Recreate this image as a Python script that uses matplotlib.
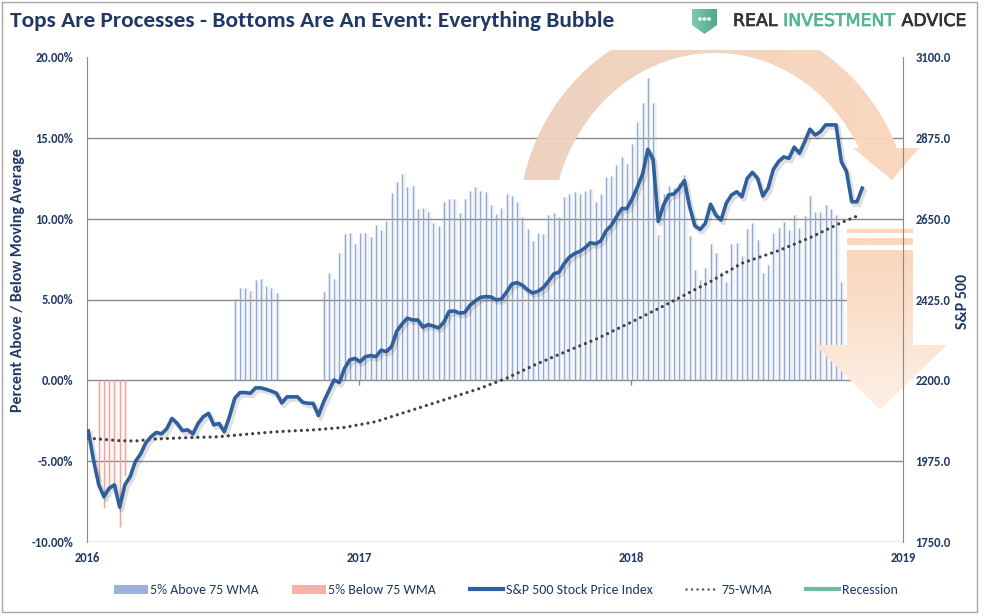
import numpy as np
import matplotlib
matplotlib.use("Agg")
import matplotlib.pyplot as plt
import matplotlib.patheffects as pe
from matplotlib import font_manager
from matplotlib.colors import LinearSegmentedColormap
from matplotlib.lines import Line2D
from matplotlib.patches import Patch, Polygon, Rectangle, Circle

# --------------------------
# Data (weekly, week 0 = first week of Jan 2016)
# --------------------------
sp500 = [2059, 1978, 1909, 1876, 1900, 1909, 1847, 1909, 1932, 1974,
         1995, 2026, 2043, 2055, 2051, 2065, 2094, 2080, 2060, 2062,
         2051, 2080, 2099, 2108, 2076, 2080, 2057, 2099, 2150, 2166,
         2166, 2164, 2179, 2179, 2175, 2170, 2164, 2137, 2154, 2154,
         2154, 2139, 2136, 2136, 2102, 2140, 2171, 2201, 2194, 2233,
         2257, 2261, 2252, 2266, 2269, 2266, 2284, 2280, 2294, 2337,
         2357, 2373, 2368, 2368, 2348, 2355, 2351, 2346, 2362, 2392,
         2393, 2387, 2389, 2409, 2421, 2431, 2433, 2432, 2424, 2426,
         2446, 2468, 2472, 2465, 2452, 2443, 2448, 2458, 2476, 2496,
         2501, 2525, 2543, 2553, 2559, 2569, 2583, 2580, 2588, 2616,
         2631, 2655, 2678, 2678, 2705, 2738, 2774, 2843, 2815, 2642,
         2688, 2716, 2719, 2735, 2756, 2683, 2630, 2620, 2637, 2690,
         2660, 2646, 2693, 2716, 2725, 2711, 2762, 2779, 2762, 2713,
         2735, 2787, 2809, 2822, 2818, 2849, 2832, 2864, 2899, 2883,
         2892, 2911, 2911, 2911, 2809, 2781, 2697, 2697, 2735]

above_weeks = list(range(28, 37)) + list(range(45, 145))
above_pct = [5.04, 5.72, 5.72, 5.53, 6.22, 6.28, 5.84, 5.72, 5.41,
             5.45, 6.63, 6.28, 7.87, 9.06, 9.10, 8.42, 9.10, 9.10, 8.86,
             9.62, 9.31, 9.86, 11.58, 12.29, 12.77, 11.95, 12.03, 10.59, 10.65,
             10.40, 9.72, 9.55, 11.06, 11.21, 11.21, 10.34, 11.21, 11.74, 11.95,
             11.74, 11.68, 10.85, 10.28, 10.65, 11.52, 11.41, 11.02, 10.13, 9.35,
             8.63, 9.14, 9.04, 10.22, 10.34, 10.09, 11.33, 11.53, 11.68, 11.53,
             11.74, 11.82, 11.06,
             11.53, 12.60, 12.65, 13.33, 13.80, 13.39, 14.63, 15.99, 17.18, 18.69,
             17.18, 9.00, 11.53, 11.99, 11.89, 12.23, 12.71, 8.94, 6.83, 6.22,
             6.94, 8.44, 7.87, 6.69, 6.11, 8.44, 8.52, 7.66, 9.37, 9.76,
             8.69, 6.63, 7.14, 9.10, 9.41, 9.82, 9.31, 10.24, 9.41, 10.17,
             11.41, 10.44, 10.44, 10.85, 10.59, 10.24, 6.11]

below_weeks = list(range(2, 8))
below_pct = [-6.3, -7.9, -6.8, -6.6, -9.1, -5.9]

wma_weeks = [0, 6, 9, 12, 18, 25, 31, 36, 43, 49, 55, 61, 75,
             80, 86, 91, 97, 104, 110, 119, 125, 132, 138, 144, 147]
wma_vals = [2039, 2032, 2031, 2036, 2040, 2043, 2051, 2057, 2062, 2069, 2085, 2113, 2178,
            2206, 2247, 2278, 2314, 2363, 2407, 2475, 2526, 2561, 2597, 2639, 2657]

year_labels = ["2016", "2017", "2018", "2019"]
year_pos = [-0.25, 51.8, 103.8, 155.8]
pct_ticks = [-10, -5, 0, 5, 10, 15, 20]
spx_ticks = [1750, 1975, 2200, 2425, 2650, 2875, 3100]

weeks = np.arange(len(sp500))

# --------------------------
# Style
# --------------------------
names = {f.name for f in font_manager.fontManager.ttflist}
FONT = next(f for f in ["Carlito", "Lato", "Open Sans", "DejaVu Sans"] if f in names)
plt.rcParams["font.family"] = FONT

NAVY = "#1f3864"
LINE = "#2f5f9c"
BAR = "#8eaad6"
RED = "#f2a39a"
GRID = "#8a8a8a"
DOT = "#404040"

W, H = 985, 616
fig = plt.figure(figsize=(W / 100, H / 100), dpi=100)


def px(x0, y0, x1, y1):
    # pixel box (top-left origin) -> figure fraction rect
    return [x0 / W, 1 - y1 / H, (x1 - x0) / W, (y1 - y0) / H]


ax = fig.add_axes(px(87, 57, 903, 542))
ax2 = ax.twinx()
deco = fig.add_axes([0, 0, 1, 1])
ax.set_zorder(1)
deco.set_zorder(2)
ax2.set_zorder(3)
deco.patch.set_visible(False)
ax2.patch.set_visible(False)

# --------------------------
# Bars (percent above/below the 75-WMA)
# --------------------------
ax.vlines(np.array(above_weeks) + 0.3, 0, above_pct, colors="#f4f4f4", lw=3.0, zorder=1)
ax.vlines(np.array(below_weeks) + 0.3, 0, below_pct, colors="#f6f6f6", lw=3.0, zorder=1)
for v in [-10, -5, 0, 5, 10, 15]:
    ax.axhline(v, color=GRID, lw=1.0, zorder=1.5)
ax.vlines(above_weeks, 0, above_pct, colors=BAR, lw=1.0, zorder=2)
ax.vlines(below_weeks, 0, below_pct, colors=RED, lw=1.0, zorder=2)
ax.vlines(year_pos[1:3], -0.28, 0, colors=GRID, lw=1.0, zorder=2)

ax.set_xlim(year_pos[0], year_pos[-1])
ax.set_ylim(-10, 20)
ax.set_yticks(pct_ticks)
ax.set_yticklabels([f"{v:.2f}%" for v in pct_ticks])
ax.set_xticks(year_pos)
ax.set_xticklabels(year_labels)
ax.tick_params(axis="both", length=0, labelsize=9, labelcolor=NAVY)
ax.tick_params(axis="y", pad=10)
ax.tick_params(axis="x", pad=7)
for s in ["top", "right", "bottom"]:
    ax.spines[s].set_visible(False)
ax.spines["left"].set_color(GRID)

# --------------------------
# S&P 500 + 75-WMA on right axis
# --------------------------
ax2.plot(wma_weeks, wma_vals, color=DOT, lw=2.3, linestyle=(0, (0.01, 1.9)),
         dash_capstyle="round", zorder=2)
ax2.plot(weeks, sp500, color=LINE, lw=2.6, solid_joinstyle="round", zorder=3,
         path_effects=[pe.SimpleLineShadow(offset=(1.5, -2), shadow_color="black",
                                           alpha=0.12, linewidth=3.5),
                       pe.Normal()])
ax2.set_ylim(spx_ticks[0], spx_ticks[-1])
ax2.set_yticks(spx_ticks)
ax2.set_yticklabels([f"{v:.1f}" for v in spx_ticks])
ax2.tick_params(axis="y", length=0, pad=9, labelsize=9, labelcolor=NAVY)
for s in ["top", "left", "bottom"]:
    ax2.spines[s].set_visible(False)
ax2.spines["right"].set_color(GRID)

for lab in ax.get_xticklabels() + ax.get_yticklabels() + ax2.get_yticklabels():
    lab.set_fontweight("bold")

# --------------------------
# Decorations: arrows, logo, border (pixel coordinates)
# --------------------------
deco.set_xlim(0, W)
deco.set_ylim(H, 0)
deco.axis("off")


def gradient_fill(verts, c0, c1, vertical=False, alpha=1.0, z=1):
    poly = Polygon(verts, closed=True, facecolor="none", edgecolor="none")
    deco.add_patch(poly)
    xs, ys = verts[:, 0], verts[:, 1]
    cmap = LinearSegmentedColormap.from_list("g", [c0, c1])
    grad = np.linspace(0, 1, 256)
    grad = grad.reshape(-1, 1) if vertical else grad.reshape(1, -1)
    im = deco.imshow(grad, cmap=cmap, extent=(xs.min(), xs.max(), ys.max(), ys.min()),
                     aspect="auto", alpha=alpha, zorder=z, interpolation="bilinear")
    im.set_clip_path(poly)


# curved arrow (clipped at the top of the chart area)
t_out = np.linspace(np.pi - np.arcsin(48.6 / 210.5), np.arcsin(80.6 / 210.5), 120)
t_in = np.linspace(np.arcsin(83.9 / 178.9), np.pi - np.arcsin(51.9 / 178.9), 120)
outer = np.c_[715 + 197 * np.cos(t_out), 228.6 - 210.5 * np.sin(t_out)]
inner = np.c_[715 + 163 * np.cos(t_in), 231.9 - 178.9 * np.sin(t_in)]
head = np.array([[919, 148], [892, 180], [853, 148]])
arc = np.vstack([outer, head, inner])
arc[:, 1] = np.maximum(arc[:, 1], 50)
gradient_fill(arc, "#ebd0bd", "#fbd6bb", alpha=0.95)

# downward arrow with stripes
gradient_fill(np.array([[847, 229], [913, 229], [913, 233.5], [847, 233.5]]),
              "#fad5ba", "#fad7bd", vertical=True)
gradient_fill(np.array([[847, 237.5], [913, 237.5], [913, 245], [847, 245]]),
              "#fad6bb", "#fad8be", vertical=True)
down = np.array([[847, 250], [913, 250], [913, 345], [947, 345],
                 [880, 410], [815, 345], [847, 345]], dtype=float)
gradient_fill(down, "#fad6bb", "#fdf0e6", vertical=True)

# logo
shield = np.array([[692, 9], [717, 9], [717, 25], [704.5, 34], [692, 25]])
gradient_fill(shield, "#7ccbb1", "#4fa88c", z=3)
for xd in [700, 704.5, 709]:
    deco.add_patch(Circle((xd, 19), 1.1, color="white", zorder=4))

# border
deco.add_patch(Rectangle((1.5, 1.5), 975, 610.5, fill=False, ec="#a6a6a6", lw=1.0, zorder=5))

# --------------------------
# Texts
# --------------------------
renderer = fig.canvas.get_renderer()


def fit(t, target, use_height=False):
    bb = t.get_window_extent(renderer)
    cur = bb.height if use_height else bb.width
    t.set_fontsize(t.get_fontsize() * target / cur)


title = fig.text(10 / W, 1 - 21 / H, "Tops Are Processes - Bottoms Are An Event: Everything Bubble",
                 ha="left", va="center", fontsize=16, fontweight="bold", color=NAVY)
fit(title, 603)

ylab = fig.text(18 / W, 1 - 280 / H, "Percent Above / Below Moving Average", rotation=90,
                ha="center", va="center", fontsize=8.5, fontweight="bold", color=NAVY)
fit(ylab, 262, use_height=True)
fig.text(963 / W, 1 - 301 / H, "S&P 500", rotation=90, ha="center", va="center",
         fontsize=ylab.get_fontsize(), fontweight="bold", color=NAVY)

# logo text in three colored pieces, scaled to the logo width
pieces = [("REAL ", "#333333"), ("INVESTMENT", "#55b396"), (" ADVICE", "#333333")]
logo_fs = 10.5
probe = fig.text(0, 0, "".join(p[0] for p in pieces), fontsize=logo_fs,
                 family="DejaVu Sans")
logo_fs *= 232 / probe.get_window_extent(renderer).width
probe.remove()
x_cur = 733
for txt, col in pieces:
    t = fig.text(x_cur / W, 1 - 21 / H, txt, ha="left", va="center", fontsize=logo_fs,
                 color=col, family="DejaVu Sans",
                 path_effects=[pe.withStroke(linewidth=0.5, foreground=col)])
    x_cur += t.get_window_extent(renderer).width

# legend
handles = [Patch(facecolor="#9bb3d8", edgecolor="none"),
           Patch(facecolor="#f5b1a8", edgecolor="none"),
           Line2D([], [], color=LINE, lw=3),
           Line2D([], [], color="#505050", lw=1.8, linestyle=(0, (0.01, 2.2)), dash_capstyle="round"),
           Line2D([], [], color="#72b9a2", lw=3)]
labels = ["5% Above 75 WMA", "5% Below 75 WMA", "S&P 500 Stock Price Index", "75-WMA", "Recession"]
leg = fig.legend(handles, labels, loc="center", bbox_to_anchor=(506 / W, 1 - 590 / H), ncol=5,
                 frameon=False, fontsize=10, handlelength=2.4, handleheight=0.6,
                 handletextpad=0.2, columnspacing=2.4)
for t in leg.get_texts():
    t.set_color(NAVY)

fig.savefig("out.png", dpi=100)
